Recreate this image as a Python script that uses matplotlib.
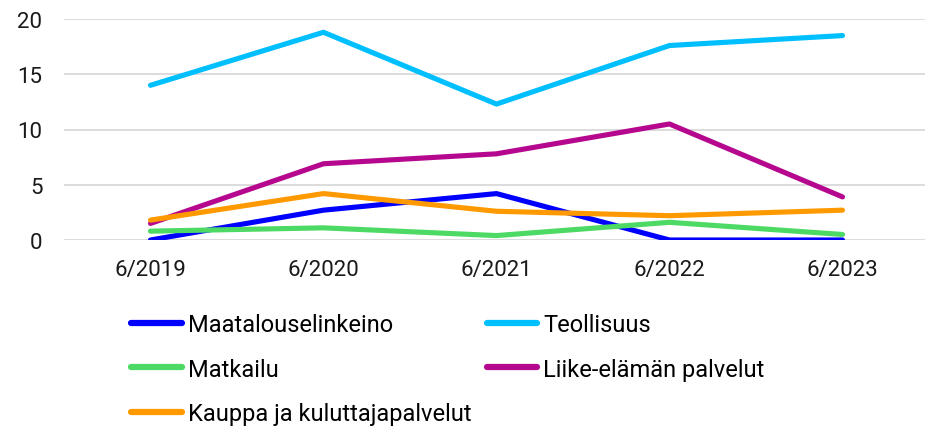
import matplotlib
matplotlib.use('Agg')
import matplotlib.pyplot as plt

plt.rcParams['font.family'] = ['Roboto', 'DejaVu Sans']

periods = ['6/2019', '6/2020', '6/2021', '6/2022', '6/2023']

maatalous = [0.0, 2.7, 4.2, 0.0, 0.0]
teollisuus = [14.0, 18.8, 12.3, 17.6, 18.5]
matkailu = [0.8, 1.1, 0.4, 1.6, 0.5]
liike = [1.5, 6.9, 7.8, 10.5, 3.9]
kauppa = [1.8, 4.2, 2.6, 2.2, 2.7]

names = ['Maatalouselinkeino', 'Teollisuus', 'Matkailu',
         'Liike-elämän palvelut', 'Kauppa ja kuluttajapalvelut']
colors = ['#0000FF', '#00BFFF', '#4CD964', '#B5088F', '#FF9900']
series = [maatalous, teollisuus, matkailu, liike, kauppa]

fig = plt.figure(figsize=(9.25, 4.27), dpi=100)
ax = fig.add_axes([64 / 925, 1 - 241 / 427, 861 / 925, 221 / 427])

x = list(range(len(periods)))
lines = {}
for name, vals, c in zip(names, series, colors):
    ln, = ax.plot(x, vals, color=c, lw=3.7, solid_capstyle='round',
                  solid_joinstyle='round', label=name)
    lines[name] = ln

ax.set_ylim(0, 20)
ax.set_yticks([0, 5, 10, 15, 20])
ax.set_xlim(-0.5, 4.477)
ax.set_xticks(x)
ax.set_xticklabels(periods)
ax.grid(axis='y', color='#D9D9D9', lw=1.3)
ax.set_axisbelow(True)
for s in ax.spines.values():
    s.set_visible(False)
ax.tick_params(length=0, labelsize=16, colors='#1a1a1a')
ax.tick_params(axis='x', pad=14)
ax.tick_params(axis='y', pad=15.5)

# legend is filled column by column
order = ['Maatalouselinkeino', 'Matkailu', 'Kauppa ja kuluttajapalvelut',
         'Teollisuus', 'Liike-elämän palvelut']
leg = fig.legend([lines[n] for n in order], order, ncol=2, frameon=False,
                 loc='upper left', bbox_to_anchor=(131 / 925, 1 - 314 / 427),
                 fontsize=17, handlelength=2.15, handletextpad=0.25,
                 columnspacing=0.65, labelspacing=0.92, borderaxespad=0,
                 borderpad=0)
for h in leg.legend_handles:
    h.set_linewidth(4.5)
    h.set_solid_capstyle('round')

fig.savefig('out.png', dpi=100)
